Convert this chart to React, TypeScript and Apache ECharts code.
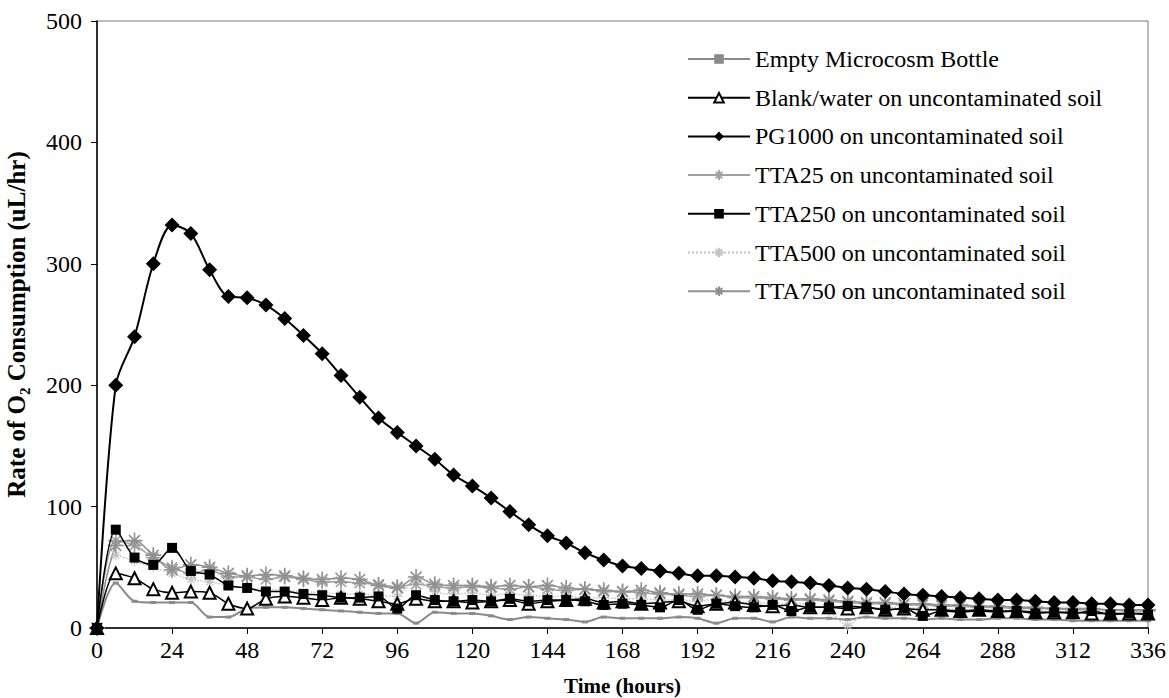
import React, { useEffect, useRef } from "react";
import * as echarts from "echarts";

const hours = [0,6,12,18,24,30,36,42,48,54,60,66,72,78,84,90,96,102,108,114,120,126,132,138,144,150,156,162,168,174,180,186,192,198,204,210,216,222,228,234,240,246,252,258,264,270,276,282,288,294,300,306,312,318,324,330,336];

const xTicks = [0,24,48,72,96,120,144,168,192,216,240,264,288,312,336];
const yTicks = [0,100,200,300,400,500];

const seriesNames = [
  "Empty Microcosm Bottle",
  "Blank/water on uncontaminated soil",
  "PG1000 on uncontaminated soil",
  "TTA25 on uncontaminated soil",
  "TTA250 on uncontaminated soil",
  "TTA500 on uncontaminated soil",
  "TTA750 on uncontaminated soil",
];

const emptyBottle = [0,37,22,21,21,21,9,9,16,17,17,16,15,14,13,12,12,4,13,12,12,10,7,9,8,7,5,9,8,8,8,9,8,4,8,8,5,9,8,8,7,9,8,8,7,8,7,7,8,8,7,7,6,6,6,6,6];
const blankWater = [0,45,41,32,29,30,29,20,16,24,26,25,23,25,24,22,20,24,22,22,21,22,23,20,22,23,24,21,22,20,21,22,18,20,21,19,18,19,17,17,16,17,15,16,15,15,14,15,14,14,13,13,13,12,12,12,12];
const pg1000 = [0,200,240,300,332,325,295,273,272,266,255,241,226,208,190,173,161,150,139,126,117,107,96,85,76,70,62,56,51,49,47,45,43,43,42,41,39,38,37,35,33,32,30,28,27,26,25,24,23,23,22,21,21,20,20,19,19];
const tta25 = [0,72,68,58,50,45,48,42,42,40,42,40,38,38,37,36,34,36,34,33,34,33,32,34,32,31,32,30,30,29,28,27,26,27,25,25,24,23,23,22,21,20,20,19,19,18,18,17,17,16,16,16,15,15,15,14,14];
const tta250 = [0,81,58,52,66,47,44,35,33,30,30,28,27,25,25,26,16,27,23,22,23,22,24,22,23,23,22,19,20,19,17,23,15,20,18,17,19,14,17,17,18,17,15,16,10,14,13,14,13,14,12,13,12,14,11,12,11];
const tta500 = [0,60,55,50,45,40,38,35,33,32,31,30,29,28,28,27,26,40,30,28,29,27,28,27,26,26,25,25,24,24,23,23,22,24,21,21,20,20,19,14,2,15,17,17,16,16,15,15,15,14,14,14,13,13,13,12,12];
const tta750 = [0,68,72,60,48,52,50,45,43,44,43,41,40,41,40,35,33,42,36,35,35,34,35,34,35,33,32,31,30,31,29,28,28,27,26,26,25,24,24,23,22,21,21,20,20,19,19,18,18,17,17,16,16,16,15,15,15];

const asterisk = "path://M5,0L5,10M0,5L10,5M1.6,1.6L8.4,8.4M1.6,8.4L8.4,1.6";

const pairs = (vals: number[]) => hours.map((h, i) => [h, vals[i]]);

export default function App() {
  const ref = useRef<HTMLDivElement>(null);
  useEffect(() => {
    if (!ref.current) return;
    const chart = echarts.init(ref.current, null, { renderer: "svg" });
    const serif = "'Liberation Serif', 'Times New Roman', serif";
    const option: any = {
      animation: false,
      backgroundColor: "#fff",
      textStyle: { fontFamily: serif },
      grid: {
        left: 97,
        right: 21,
        top: 21,
        bottom: 70,
        containLabel: false,
        outerBoundsMode: "none",
        show: true,
        borderColor: "#777",
        borderWidth: 1,
        backgroundColor: "transparent",
      },
      legend: {
        orient: "vertical",
        left: 682,
        top: 41,
        itemWidth: 62,
        itemHeight: 12,
        itemGap: 12.7,
        textStyle: { fontFamily: serif, fontSize: 24, color: "#000", lineHeight: 26 },
        data: seriesNames,
      },
      xAxis: {
        type: "value",
        min: 0,
        max: 336,
        interval: 24,
        name: "Time (hours)",
        nameLocation: "middle",
        nameGap: 47,
        nameTextStyle: { fontFamily: serif, fontSize: 21, fontWeight: "bold", color: "#000" },
        axisLine: { show: true, lineStyle: { color: "#000", width: 1.5 } },
        axisTick: { show: true, length: 6, lineStyle: { color: "#000" } },
        axisLabel: {
          fontFamily: serif,
          fontSize: 24,
          color: "#000",
          margin: 10,
          formatter: (v: number) => (xTicks.indexOf(v) >= 0 ? String(v) : ""),
        },
        splitLine: { show: false },
      },
      yAxis: {
        type: "value",
        min: 0,
        max: 500,
        interval: 100,
        name: "Rate of O\u2082 Consumption (uL/hr)",
        nameLocation: "middle",
        nameGap: 68,
        nameTextStyle: { fontFamily: serif, fontSize: 25, fontWeight: "bold", color: "#000" },
        axisLine: { show: true, lineStyle: { color: "#000", width: 1.5 } },
        axisTick: { show: true, length: 6, lineStyle: { color: "#000" } },
        axisLabel: {
          fontFamily: serif,
          fontSize: 24,
          color: "#000",
          margin: 15,
          formatter: (v: number) => (yTicks.indexOf(v) >= 0 ? String(v) : ""),
        },
        splitLine: { show: false },
      },
      series: [
        {
          name: seriesNames[0],
          type: "line",
          smooth: 0.3,
          data: pairs(emptyBottle),
          symbol: "rect",
          symbolSize: [6, 3],
          color: "#8a8a8a",
          lineStyle: { color: "#8a8a8a", width: 2 },
          itemStyle: { color: "#8a8a8a" },
          z: 2,
        },
        {
          name: seriesNames[1],
          type: "line",
          smooth: 0.3,
          data: pairs(blankWater),
          symbol: "triangle",
          symbolSize: 12,
          color: "#000",
          lineStyle: { color: "#000", width: 1.5 },
          itemStyle: { color: "#fff", borderColor: "#000", borderWidth: 2 },
          z: 4,
        },
        {
          name: seriesNames[2],
          type: "line",
          smooth: 0.3,
          data: pairs(pg1000),
          symbol: "diamond",
          symbolSize: 15,
          color: "#000",
          lineStyle: { color: "#000", width: 2 },
          itemStyle: { color: "#000" },
          z: 8,
        },
        {
          name: seriesNames[3],
          type: "line",
          smooth: 0.3,
          data: pairs(tta25),
          symbol: asterisk,
          symbolSize: 15,
          color: "#a0a0a0",
          lineStyle: { color: "#a0a0a0", width: 1.5 },
          itemStyle: { color: "#a0a0a0", borderColor: "#a0a0a0", borderWidth: 1.6 },
          z: 3,
        },
        {
          name: seriesNames[4],
          type: "line",
          smooth: 0.3,
          data: pairs(tta250),
          symbol: "rect",
          symbolSize: 10,
          color: "#000",
          lineStyle: { color: "#000", width: 1.5 },
          itemStyle: { color: "#000" },
          z: 5,
        },
        {
          name: seriesNames[5],
          type: "line",
          smooth: 0.3,
          data: pairs(tta500),
          symbol: asterisk,
          symbolSize: 10,
          color: "#c4c4c4",
          lineStyle: { color: "#c4c4c4", width: 1.5, type: "dotted" },
          itemStyle: { color: "#c4c4c4", borderColor: "#c4c4c4", borderWidth: 1.2 },
          z: 3,
        },
        {
          name: seriesNames[6],
          type: "line",
          smooth: 0.3,
          data: pairs(tta750),
          symbol: asterisk,
          symbolSize: 16,
          color: "#909090",
          lineStyle: { color: "#909090", width: 1.5 },
          itemStyle: { color: "#909090", borderColor: "#909090", borderWidth: 1.6 },
          z: 3,
        },
      ],
    };
    chart.setOption(option);
    return () => chart.dispose();
  }, []);
  return (
    <div
      ref={ref}
      style={{ position: "fixed", left: 0, top: 0, width: 1169, height: 698, background: "#fff" }}
    />
  );
}
